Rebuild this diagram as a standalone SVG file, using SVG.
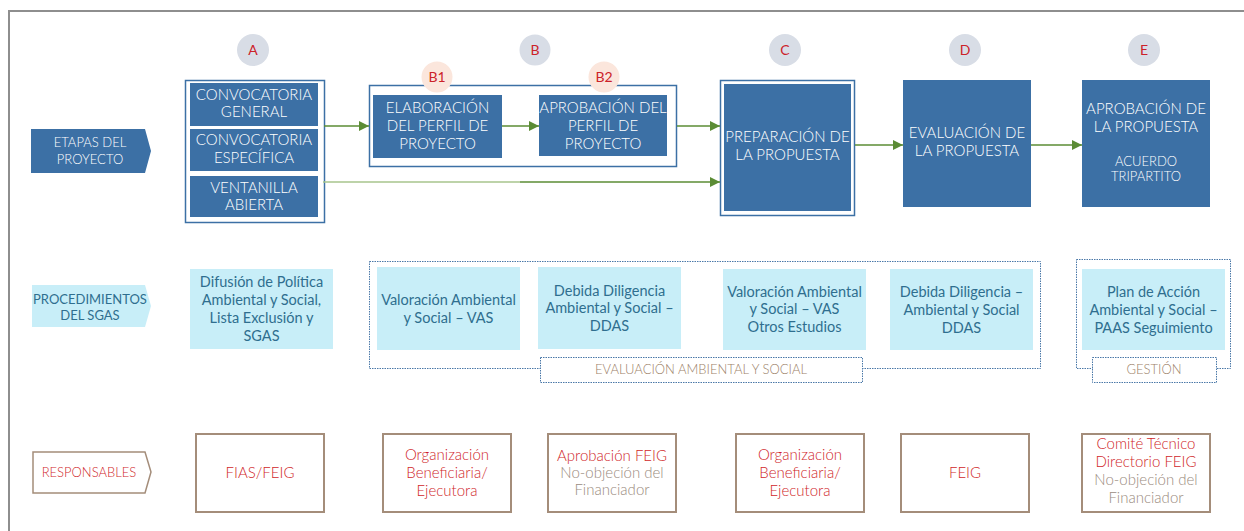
<svg xmlns="http://www.w3.org/2000/svg" width="1244" height="531" viewBox="0 0 1244 531">
<defs>
<marker id="ah" viewBox="0 0 10 10" refX="10" refY="5" markerWidth="10" markerHeight="10" markerUnits="userSpaceOnUse" orient="auto">
<path d="M0,0 L10,5 L0,10 z" fill="#5b8c35"/>
</marker>
<style>
text{font-family:Lato,"Open Sans","Liberation Sans",sans-serif;text-anchor:middle;font-weight:400}
.dk{fill:#3c70a5}
.wt{fill:#ffffff;font-size:15px;font-weight:300}
.wts{fill:#ffffff;font-size:13px;font-weight:300}
.frame{fill:#ffffff;stroke:#3c70a5;stroke-width:1.5}
.circ{fill:#d8dde6}
.circp{fill:#fbe6dc}
.cl{fill:#cc2229;font-size:14px}
.lb{fill:#c8eef8}
.tb{fill:#2f6e8f;font-size:14.5px}
.tbs{fill:#2f6e8f;font-size:13px}
.dot{fill:none;stroke:#4a78a8;stroke-width:1;stroke-dasharray:1.5 1}
.dotw{fill:#ffffff;stroke:#4a78a8;stroke-width:1;stroke-dasharray:1.5 1}
.tan{fill:#9c7f68;font-size:13px;font-weight:300}
.rb{fill:#ffffff;stroke:#a48d7a;stroke-width:2}
.rt{fill:#d01f2a;font-size:15px;font-weight:300}
.rts{fill:#d01f2a;font-size:13px;font-weight:300}
.gt{fill:#9a8b7e;font-size:15px;font-weight:300}
.arr{fill:none;stroke:#5b8c35;stroke-width:1.5}
</style>
</defs>
<rect x="9" y="11" width="1260" height="540" fill="#ffffff" stroke="#8e8e8e" stroke-width="2"/>

<!-- Row labels -->
<g id="etapas">
<path class="dk" d="M31,129 L145,129 L151,151 L145,173 L31,173 z"/>
<text class="wts" x="90" y="147">ETAPAS DEL</text>
<text class="wts" x="90" y="164">PROYECTO</text>
</g>
<g id="procedimientos">
<path class="lb" d="M32,285 L145,285 L151,306 L145,327 L32,327 z"/>
<text class="tbs" x="90" y="304">PROCEDIMIENTOS</text>
<text class="tbs" x="90" y="320">DEL SGAS</text>
</g>
<g id="responsables">
<path d="M33,452 L145,452 L151,472 L145,493 L33,493 z" fill="#ffffff" stroke="#a48d7a" stroke-width="1.5"/>
<text class="rts" x="89" y="477">RESPONSABLES</text>
</g>

<!-- Stage A -->
<g id="stageA">
<circle class="circ" cx="253" cy="50" r="16"/>
<text class="cl" x="253" y="55">A</text>
<rect class="frame" x="185.5" y="80.5" width="139" height="142"/>
<rect class="dk" x="190" y="83" width="128" height="43"/>
<text class="wt" x="254" y="100">CONVOCATORIA</text>
<text class="wt" x="254" y="117">GENERAL</text>
<rect class="dk" x="190" y="129" width="128" height="42"/>
<text class="wt" x="254" y="145">CONVOCATORIA</text>
<text class="wt" x="254" y="163">ESPECÍFICA</text>
<rect class="dk" x="190" y="176" width="128" height="41"/>
<text class="wt" x="254" y="193">VENTANILLA</text>
<text class="wt" x="254" y="210">ABIERTA</text>
</g>

<!-- Stage B -->
<g id="stageB">
<circle class="circ" cx="535" cy="50" r="15.5"/>
<text class="cl" x="535" y="55">B</text>
<rect class="frame" x="369.5" y="85.5" width="307" height="81"/>
</g>
<g id="stageB1">
<circle class="circp" cx="437" cy="77" r="15.5"/>
<text class="cl" x="437" y="82">B1</text>
<rect class="dk" x="373" y="95" width="129" height="63"/>
<text class="wt" x="437.5" y="113">ELABORACIÓN</text>
<text class="wt" x="437.5" y="131">DEL PERFIL DE</text>
<text class="wt" x="437.5" y="149">PROYECTO</text>
</g>
<g id="stageB2">
<circle class="circp" cx="604" cy="77" r="15.5"/>
<text class="cl" x="604" y="82">B2</text>
<rect class="dk" x="539" y="95" width="128" height="61"/>
<text class="wt" x="603" y="113">APROBACIÓN DEL</text>
<text class="wt" x="603" y="131">PERFIL DE</text>
<text class="wt" x="603" y="149">PROYECTO</text>
</g>

<!-- Stage C -->
<g id="stageC">
<circle class="circ" cx="785" cy="50" r="16"/>
<text class="cl" x="785" y="55">C</text>
<rect class="frame" x="720.5" y="80.5" width="134" height="135"/>
<rect class="dk" x="724" y="84" width="127" height="127"/>
<text class="wt" x="787.5" y="142">PREPARACIÓN DE</text>
<text class="wt" x="787.5" y="160">LA PROPUESTA</text>
</g>

<!-- Stage D -->
<g id="stageD">
<circle class="circ" cx="965" cy="50" r="16"/>
<text class="cl" x="965" y="55">D</text>
<rect class="dk" x="903" y="80" width="128" height="127"/>
<text class="wt" x="967" y="138">EVALUACIÓN DE</text>
<text class="wt" x="967" y="156">LA PROPUESTA</text>
</g>

<!-- Stage E -->
<g id="stageE">
<circle class="circ" cx="1144" cy="50" r="16"/>
<text class="cl" x="1144" y="55">E</text>
<rect class="dk" x="1082" y="80" width="128" height="127"/>
<text class="wt" x="1146" y="114">APROBACIÓN DE</text>
<text class="wt" x="1146" y="132">LA PROPUESTA</text>
<text class="wts" x="1146" y="166">ACUERDO</text>
<text class="wts" x="1146" y="181">TRIPARTITO</text>
</g>

<!-- Connectors -->
<g id="connectors">
<line class="arr" x1="324" y1="126" x2="369" y2="126" marker-end="url(#ah)"/>
<line class="arr" x1="502" y1="126" x2="539" y2="126" marker-end="url(#ah)"/>
<line class="arr" x1="677" y1="126" x2="720" y2="126" marker-end="url(#ah)"/>
<line x1="323" y1="182" x2="520" y2="182" stroke="#a7c48d" stroke-width="1.5"/>
<line class="arr" x1="520" y1="182" x2="720" y2="182" stroke="#87ad68" marker-end="url(#ah)"/>
<line class="arr" x1="855" y1="145" x2="903" y2="145" marker-end="url(#ah)"/>
<line class="arr" x1="1031" y1="145" x2="1082" y2="145" marker-end="url(#ah)"/>
</g>

<!-- Row 2 procedures -->
<g id="eas-group">
<rect class="dot" x="369.5" y="261.5" width="671" height="107"/>
<rect class="dotw" x="540.5" y="357.5" width="322" height="25"/>
<text class="tan" x="701" y="374">EVALUACIÓN AMBIENTAL Y SOCIAL</text>
</g>
<g id="gestion-group">
<rect class="dot" x="1076.5" y="259.5" width="154" height="109"/>
<rect class="dotw" x="1092.5" y="357.5" width="124" height="25"/>
<text class="tan" x="1154" y="374">GESTIÓN</text>
</g>
<g id="proc-difusion">
<rect class="lb" x="190" y="269" width="143" height="80"/>
<text class="tb" x="261.5" y="287">Difusión de Política</text>
<text class="tb" x="261.5" y="305">Ambiental y Social,</text>
<text class="tb" x="261.5" y="323">Lista Exclusión y</text>
<text class="tb" x="261.5" y="341">SGAS</text>
</g>
<g id="proc-vas">
<rect class="lb" x="377" y="267" width="143" height="83"/>
<text class="tb" x="448.5" y="305">Valoración Ambiental</text>
<text class="tb" x="448.5" y="323">y Social – VAS</text>
</g>
<g id="proc-ddas">
<rect class="lb" x="538" y="267" width="143" height="82"/>
<text class="tb" x="609.5" y="296">Debida Diligencia</text>
<text class="tb" x="609.5" y="313">Ambiental y Social –</text>
<text class="tb" x="609.5" y="331">DDAS</text>
</g>
<g id="proc-vas2">
<rect class="lb" x="723" y="269" width="143" height="81"/>
<text class="tb" x="794.5" y="297">Valoración Ambiental</text>
<text class="tb" x="794.5" y="314">y Social – VAS</text>
<text class="tb" x="794.5" y="332">Otros Estudios</text>
</g>
<g id="proc-ddas2">
<rect class="lb" x="890" y="269" width="143" height="81"/>
<text class="tb" x="961.5" y="297">Debida Diligencia –</text>
<text class="tb" x="961.5" y="315">Ambiental y Social</text>
<text class="tb" x="961.5" y="333">DDAS</text>
</g>
<g id="proc-paas">
<rect class="lb" x="1082" y="269" width="143" height="81"/>
<text class="tb" x="1153.5" y="297">Plan de Acción</text>
<text class="tb" x="1153.5" y="315">Ambiental y Social –</text>
<text class="tb" x="1153.5" y="333">PAAS Seguimiento</text>
</g>

<!-- Row 3 responsables -->
<g id="resp-a">
<rect class="rb" x="196" y="434" width="128" height="78"/>
<text class="rt" x="260" y="478">FIAS/FEIG</text>
</g>
<g id="resp-b1">
<rect class="rb" x="383" y="434" width="128" height="78"/>
<text class="rt" x="447" y="460">Organización</text>
<text class="rt" x="447" y="478">Beneficiaria/</text>
<text class="rt" x="447" y="496">Ejecutora</text>
</g>
<g id="resp-b2">
<rect class="rb" x="548" y="434" width="128" height="78"/>
<text class="rt" x="612" y="461">Aprobación FEIG</text>
<text class="gt" x="612" y="478">No-objeción del</text>
<text class="gt" x="612" y="495">Financiador</text>
</g>
<g id="resp-c">
<rect class="rb" x="736" y="434" width="128" height="78"/>
<text class="rt" x="800" y="460">Organización</text>
<text class="rt" x="800" y="478">Beneficiaria/</text>
<text class="rt" x="800" y="496">Ejecutora</text>
</g>
<g id="resp-d">
<rect class="rb" x="901" y="434" width="128" height="78"/>
<text class="rt" x="965" y="478">FEIG</text>
</g>
<g id="resp-e">
<rect class="rb" x="1082" y="434" width="128" height="78"/>
<text class="rt" x="1146" y="449">Comité Técnico</text>
<text class="rt" x="1146" y="467">Directorio FEIG</text>
<text class="gt" x="1146" y="485">No-objeción del</text>
<text class="gt" x="1146" y="503">Financiador</text>
</g>
</svg>
